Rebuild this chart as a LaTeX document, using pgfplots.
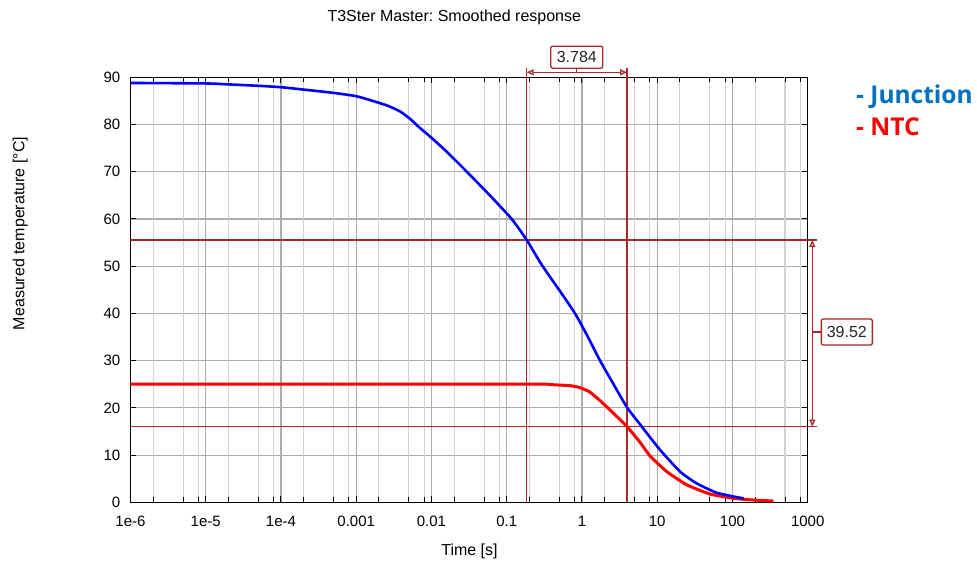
\documentclass[border=0pt]{standalone}
\usepackage{pgfplots}
\pgfplotsset{compat=1.18}
\usepackage{fontspec}
\setmainfont{Liberation Sans}
\newfontfamily\legendfont{Open Sans}
\usetikzlibrary{arrows.meta}
\frenchspacing

\definecolor{cursor}{RGB}{165,42,42}
\definecolor{majgrid}{RGB}{172,172,172}
\definecolor{mingrid}{RGB}{210,210,210}
\definecolor{junction}{RGB}{0,112,192}
\definecolor{ntc}{RGB}{255,0,0}

% junction (blue) and NTC (red) cooling curves: time [s], temperature [C]
\pgfplotstableread{
t        T
1e-6     88.8
1e-5     88.7
2e-5     88.5
5e-5     88.2
1e-4     87.9
2e-4     87.4
5e-4     86.7
1e-3     86.0
1.66e-3  85.0
2.6e-3   84.0
3.8e-3   82.8
5.2e-3   81.2
7.0e-3   79.3
1e-2     77.2
1.58e-2  74.3
2.95e-2  70.0
5.89e-2  65.1
0.1164   60.0
0.1845   55.55
0.2917   50.3
0.501    44.9
0.809    40.0
1.202    35.0
1.738    30.0
2.63     25.0
3.936    20.2
5.916    16.5
10.91    11.1
20.14    6.5
33.5     4.0
61.7     2.03
125      0.97
141      0.85
}\junctiondata

\pgfplotstableread{
t        T
1e-6     25.0
1e-3     25.0
0.1      25.0
0.35     25.0
0.407    24.9
0.692    24.7
0.933    24.3
1.259    23.4
1.718    21.6
2.57     19.0
3.9685   16.03
5.916    12.7
8.04     9.8
13.4     6.5
24.7     3.7
50.1     1.76
102      0.85
186      0.49
349      0.27
}\ntcdata

% picture coordinates measured from the top-left corner, in pt
\newcommand\pxy[2]{({#1-130.5},{502.3-#2})}

\begin{document}
\begin{tikzpicture}[x=1pt,y=1pt]
\useasboundingbox (-130.5,-60.7) rectangle (846.5,502.3);
\begin{axis}[
  at={(0,0)}, anchor=south west,
  scale only axis, width=677.2pt, height=425pt,
  xmode=log, log basis x=10,
  xmin=1e-6, xmax=1000, ymin=0, ymax=90,
  xtick={1e-6,1e-5,1e-4,1e-3,1e-2,1e-1,1,10,100,1000},
  xticklabels={1e-6,1e-5,1e-4,0.001,0.01,0.1,1,10,100,1000},
  xminorticks=false, yminorticks=false,
  extra x ticks={2e-6,5e-6,8e-6,2e-5,5e-5,8e-5,2e-4,5e-4,8e-4,
               2e-3,5e-3,8e-3,2e-2,5e-2,8e-2,0.2,0.5,0.8,
               2,5,8,20,50,80,200,500,800},
  extra x tick labels={},
  extra x tick style={major grid style={mingrid, line width=1.1pt},
                      major tick length=5pt},
  ytick={0,10,...,90},
  grid=major,
  major grid style={majgrid, line width=1.1pt},
  axis line style={black, line width=1pt},
  tick style={black, line width=1pt},
  major tick length=6pt,
  /pgf/number format/assume math mode=true,
  every tick label/.append style={font=\fontsize{15}{18}\selectfont},
  xticklabel style={anchor=base, inner sep=0pt, yshift=-24.4pt},
  yticklabel style={anchor=east, inner sep=0pt, xshift=-10pt},
  clip=false,
]
% cursor lines
\addplot[cursor, line width=1.3pt] coordinates {(0.1845,0) (0.1845,91.9)};
\addplot[cursor, line width=1.3pt] coordinates {(3.9685,0) (3.9685,91.9)};
\addplot[cursor, line width=1.3pt] coordinates {(1e-6,55.55) (1318,55.55)};
\addplot[cursor, line width=1.3pt] coordinates {(1e-6,16.03) (1318,16.03)};
% measured responses
\addplot[ntc, line width=3pt, line join=round, smooth, tension=0.3]
  table[x=t, y=T] {\ntcdata};
\addplot[blue, line width=2.6pt, line join=round, smooth, tension=0.35]
  table[x=t, y=T] {\junctiondata};
\end{axis}

% time difference between the cursors
\draw[cursor, line width=1.3pt,
      {Triangle[open, length=7pt, width=6pt]}-{Triangle[open, length=7pt, width=6pt]}]
  \pxy{526.7}{72.3} -- \pxy{627.0}{72.3};
\draw[cursor, line width=1.3pt] \pxy{576.8}{72.3} -- \pxy{576.8}{68.3};
\node[draw=cursor, line width=1.3pt, fill=white, rounded corners=2pt,
      minimum width=52pt, minimum height=22pt, inner sep=0pt,
      font=\fontsize{16}{19}\selectfont, text=black!85]
  at \pxy{576.8}{57.2} {3.784};

% temperature difference between the cursors
\draw[cursor, line width=1.3pt,
      {Triangle[open, length=7pt, width=6pt]}-{Triangle[open, length=7pt, width=6pt]}]
  \pxy{812.3}{240} -- \pxy{812.3}{426.6};
\draw[cursor, line width=1.3pt] \pxy{812.3}{332} -- \pxy{820.7}{332};
\node[draw=cursor, line width=1.3pt, fill=white, rounded corners=2pt,
      minimum width=51pt, minimum height=26pt, inner sep=0pt, anchor=west,
      font=\fontsize{16}{19}\selectfont, text=black!85]
  at \pxy{820.7}{332} {39.52};

% titles
\node[anchor=base, inner sep=0pt, font=\fontsize{16}{19}\selectfont]
  at \pxy{454.3}{21.7} {T3Ster Master: Smoothed response};
\node[anchor=base, inner sep=0pt, font=\fontsize{16}{19}\selectfont]
  at \pxy{469.5}{555.5} {Time [s]};
\node[anchor=base, inner sep=0pt, rotate=90, font=\fontsize{16}{19}\selectfont]
  at \pxy{24.5}{233.5} {Measured temperature [°C]};

% series names
\node[anchor=base west, inner sep=0pt, text=junction,
      font=\legendfont\bfseries\fontsize{24.5}{29}\selectfont]
  at \pxy{856}{104} {- Junction};
\node[anchor=base west, inner sep=0pt, text=ntc,
      font=\legendfont\bfseries\fontsize{24.5}{29}\selectfont]
  at \pxy{856}{136} {- NTC};
\end{tikzpicture}
\end{document}
